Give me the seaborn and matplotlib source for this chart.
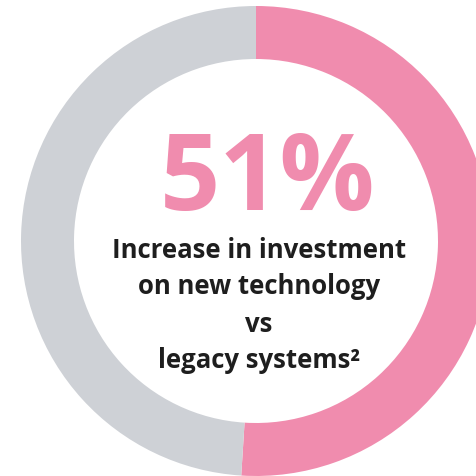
import matplotlib
matplotlib.use('Agg')
import matplotlib.pyplot as plt
import seaborn as sns

# donut data: share of investment on new technology vs legacy systems
categories = ['New technology', 'Legacy systems']
shares = [51, 49]
colors = ['#F08CAE', '#CED1D6']

headline = '51%'
caption_lines = ['Increase in investment', 'on new technology', 'vs', 'legacy systems\u00b2']

sns.set_style('white')
plt.rcParams['font.family'] = ['Open Sans', 'DejaVu Sans']

W, H = 477, 476
fig = plt.figure(figsize=(W / 100, H / 100), dpi=100)
ax = fig.add_axes([0, 0, 1, 1])

# work in pixel units, y pointing up
cx, cy, r_out, ring = 256, H - 241, 235, 53
ax.pie(shares, colors=colors, startangle=90, counterclock=False,
       center=(cx, cy), radius=r_out,
       wedgeprops=dict(width=ring, linewidth=0))
ax.set_xlim(0, W)
ax.set_ylim(0, H)
ax.set_aspect('equal')
ax.axis('off')

ax.text(268, H - 210, headline, ha='center', va='baseline',
        fontsize=76, fontweight='bold', color=colors[0])

baselines = [258, 294, 332, 368]
for line, yb in zip(caption_lines, baselines):
    ax.text(259, H - yb, line, ha='center', va='baseline',
            fontsize=18.5, fontweight='bold', color='#1e1e1e')

fig.savefig('out.png', dpi=100)
plt.close(fig)
